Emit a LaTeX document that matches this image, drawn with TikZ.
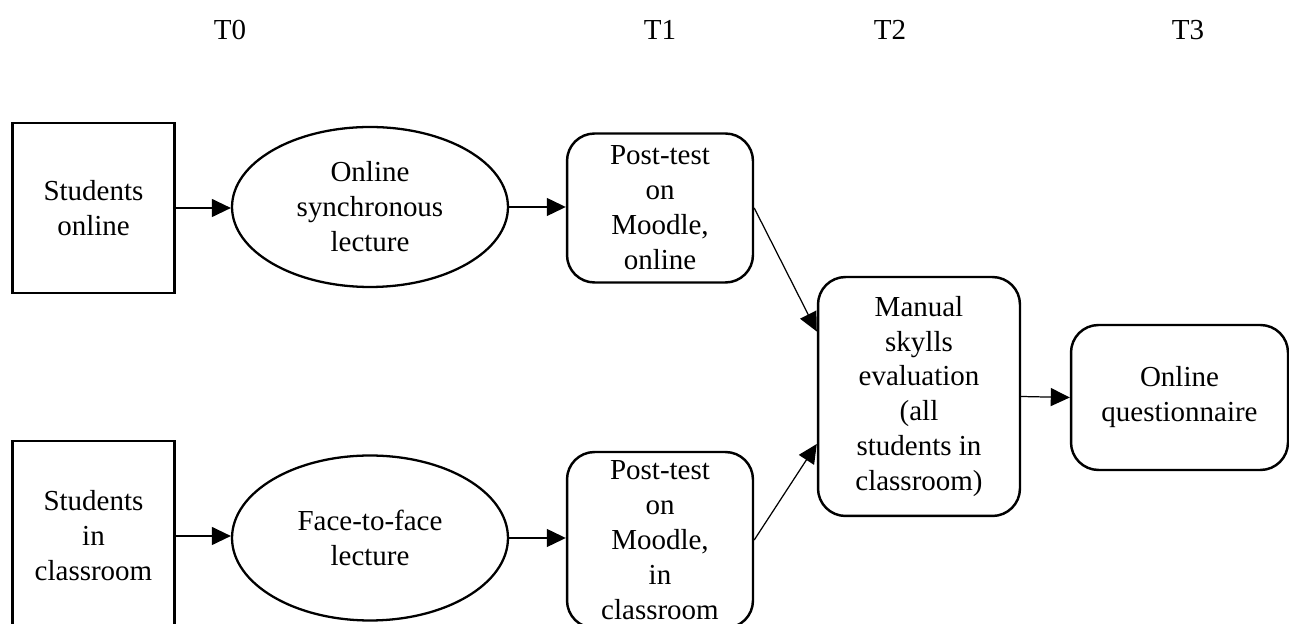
\documentclass[tikz,border=0pt]{standalone}
\usepackage{fontspec}
\setmainfont{Liberation Serif}
\usetikzlibrary{shapes.geometric, arrows.meta, positioning}

\begin{document}
\begin{tikzpicture}[
    x=0.02cm, y=-0.02cm,
    >={Triangle[length=3.8mm, width=3.6mm]},
    font=\fontsize{16.5}{19.9}\selectfont,
    group/.style={draw, line width=1.4pt, align=center,
                  minimum width=3.24cm, inner sep=2pt},
    lect/.style ={ellipse, draw, line width=1.3pt, align=center,
                  minimum width=5.52cm, inner sep=0pt},
    task/.style ={draw, line width=1.4pt, rounded corners=0.55cm,
                  align=center, inner sep=2pt},
    flow/.style ={->, line width=0.7pt},
    tlabel/.style={inner sep=0pt}
  ]
  \useasboundingbox (0,0) rectangle (1289,624);

  % ---- time points ----------------------------------------------------
  \node[tlabel] (t0) at (230, 30) {T0};
  \node[tlabel] (t1) at (660, 30) {T1};
  \node[tlabel] (t2) at (890, 30) {T2};
  \node[tlabel] (t3) at (1188, 30) {T3};

  % ---- online group ---------------------------------------------------
  \node[group, minimum height=3.4cm] (so) at (93.5, 208) {Students\\online};
  \node[lect, minimum height=3.2cm] (l1) at (370, 207) {Online\\synchronous\\lecture};
  \node[task, minimum width=3.72cm, minimum height=2.98cm] (p1) at (660, 208)
        {Post-test\\on\\Moodle,\\online};

  % ---- classroom group ------------------------------------------------
  \node[group, minimum height=3.8cm] (sc) at (93.5, 536) {Students\\in\\classroom};
  \node[lect, minimum height=3.3cm] (l2) at (370, 538) {Face-to-face\\lecture};
  \node[task, minimum width=3.72cm, minimum height=3.52cm] (p2) at (660, 540)
        {Post-test\\on\\Moodle,\\in\\classroom};

  % ---- common steps ---------------------------------------------------
  \node[task, minimum width=4.04cm, minimum height=4.78cm] (ev) at (919, 396.5)
        {Manual\\skylls\\evaluation\\(all\\students in\\classroom)};
  \node[task, minimum width=4.34cm, minimum height=2.9cm] (qu) at (1179.5, 397.5)
        {Online\\questionnaire};

  % ---- arrows ---------------------------------------------------------
  \draw[flow] (so.east) -- (so.east -| l1.west);
  \draw[flow] (l1.east) -- (l1.east -| p1.west);
  \draw[flow] (sc.east) -- (sc.east -| l2.west);
  \draw[flow] (l2.east) -- (l2.east -| p2.west);
  \draw[flow] (p1.east) -- ([yshift=1.3cm]ev.west);
  \draw[flow] (p2.east) -- ([yshift=-0.95cm]ev.west);
  \draw[flow] (ev.east) -- (qu.west);

\end{tikzpicture}
\end{document}
